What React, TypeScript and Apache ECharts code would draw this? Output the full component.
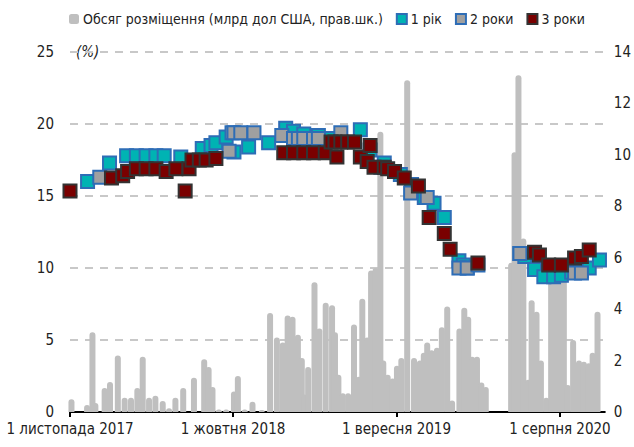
import React, { useEffect, useRef } from "react";
import * as echarts from "echarts";

const FONT = "'Liberation Sans Narrow', 'DejaVu Sans Condensed', 'Roboto', sans-serif";

const seriesNames = ["Обсяг розміщення (млрд дол США, прав.шк.)", "1 рік", "2 роки", "3 роки"];

const tickDates = ["2017-11-01", "2018-10-01", "2019-09-01", "2020-08-01"];
const tickLabels = ["1 листопада 2017", "1 жовтня 2018", "1 вересня 2019", "1 серпня 2020"];

const volumeDates = [
  "2017-11-04", "2017-12-06", "2017-12-17", "2017-12-23", "2018-01-11", "2018-01-22", "2018-02-07",
  "2018-02-21", "2018-03-06", "2018-03-19", "2018-03-30", "2018-04-12", "2018-04-25", "2018-05-10",
  "2018-05-23", "2018-06-05", "2018-06-21", "2018-07-13", "2018-08-03", "2018-08-12", "2018-08-20",
  "2018-09-02", "2018-09-17", "2018-10-03", "2018-10-11", "2018-10-25", "2018-11-10", "2018-11-29",
  "2018-12-16", "2018-12-30", "2019-01-11", "2019-01-21", "2019-01-31", "2019-02-11", "2019-02-19",
  "2019-02-24", "2019-03-04", "2019-03-17", "2019-03-27", "2019-04-09", "2019-04-22", "2019-04-28",
  "2019-05-05", "2019-05-14", "2019-05-25", "2019-06-06", "2019-06-16", "2019-06-23", "2019-07-03",
  "2019-07-11", "2019-07-20", "2019-07-30", "2019-08-05", "2019-08-14", "2019-08-24", "2019-09-02",
  "2019-09-11", "2019-09-23", "2019-10-07", "2019-10-19", "2019-10-27", "2019-11-03", "2019-11-12",
  "2019-11-23", "2019-12-03", "2019-12-14", "2019-12-24", "2020-01-08", "2020-01-18", "2020-01-26",
  "2020-02-03", "2020-02-13", "2020-02-22", "2020-03-02", "2020-04-23", "2020-04-30", "2020-05-08",
  "2020-05-18", "2020-05-28", "2020-06-04", "2020-06-14", "2020-06-23", "2020-07-04", "2020-07-14",
  "2020-07-23", "2020-07-31", "2020-08-09", "2020-08-17", "2020-08-28", "2020-09-09", "2020-09-19",
  "2020-09-29", "2020-10-07", "2020-10-17",
];
const volumeValues = [
  0.5, 0.27, 3.1, 0.35, 0.93, 1.17, 2.2,
  0.55, 0.55, 0.93, 2.15, 0.55, 0.63, 0.43,
  0.15, 0.55, 0.93, 1.33, 2.05, 1.75, 0.97,
  0.1, 0.1, 0.8, 1.4, 0.1, 0.4, 0.08,
  3.85, 2.9, 2.7, 3.75, 3.7, 3.0, 2.1,
  0.68, 1.75, 5.05, 3.25, 4.25, 4.15, 3.1,
  1.45, 0.73, 0.73, 3.4, 1.37, 4.4, 2.9,
  5.5, 5.6, 10.9, 2.0, 1.45, 1.3, 1.8,
  2.1, 12.9, 2.1, 2.0, 2.3, 2.7, 2.4,
  2.5, 3.3, 4.1, 0.45, 3.25, 4.05, 3.7,
  2.15, 2.15, 1.15, 0.97, 5.8, 10.1, 13.1,
  6.75, 1.25, 4.35, 3.9, 2.0, 0.55, 5.05,
  5.3, 5.3, 5.3, 1.05, 2.8, 2.0, 1.95,
  1.9, 2.3, 3.9,
];

const oneYearDates = [
  "2017-12-07", "2018-01-21", "2018-02-25", "2018-03-17", "2018-04-06", "2018-04-26", "2018-05-13",
  "2018-06-16", "2018-07-30", "2018-08-17", "2018-08-27", "2018-09-17", "2018-10-03", "2018-11-02",
  "2018-12-13", "2019-01-17", "2019-02-02", "2019-02-23", "2019-03-25", "2019-04-20", "2019-06-19",
  "2019-07-09", "2019-08-07", "2019-09-09", "2019-10-02", "2019-10-28", "2019-11-17", "2019-12-08",
  "2020-01-07", "2020-01-16", "2020-01-24", "2020-05-11", "2020-05-21", "2020-06-10", "2020-06-29",
  "2020-07-19", "2020-08-04", "2020-08-25", "2020-09-14", "2020-09-30", "2020-10-21",
];
const oneYearValues = [
  16.0, 17.3, 17.8, 17.8, 17.8, 17.8, 17.8,
  17.7, 18.3, 18.5, 18.7, 19.1, 18.05, 18.4,
  18.7, 19.7, 19.5, 19.3, 19.2, 19.0, 19.6,
  18.2, 17.3, 16.5, 15.8, 14.9, 14.5, 13.5,
  10.5, 10.2, 10.0, 11.0, 10.8, 9.9, 9.4,
  9.4, 9.5, 9.7, 9.8, 10.0, 10.55,
];

const twoYearDates = [
  "2018-01-01", "2018-09-23", "2018-09-29", "2018-10-03", "2018-10-17", "2018-11-13", "2019-01-09",
  "2019-02-02", "2019-02-12", "2019-02-23", "2019-03-15", "2019-03-25", "2019-05-10", "2019-07-31",
  "2019-09-30", "2019-11-03", "2020-01-07", "2020-01-24", "2020-02-15", "2020-05-11", "2020-08-31",
  "2020-09-14",
];
const twoYearValues = [
  16.3, 18.1, 19.4, 19.4, 19.4, 19.4, 19.2,
  19.0, 19.0, 19.0, 19.0, 19.0, 19.4, 17.0,
  15.2, 14.9, 10.0, 10.0, 10.2, 11.0, 9.65,
  9.65,
];

const threeYearDates = [
  "2017-11-01", "2018-01-25", "2018-02-17", "2018-02-27", "2018-03-17", "2018-04-06", "2018-04-26",
  "2018-05-17", "2018-06-06", "2018-06-25", "2018-07-03", "2018-07-09", "2018-07-24", "2018-08-07",
  "2018-08-27", "2019-01-13", "2019-02-02", "2019-02-23", "2019-03-15", "2019-04-08", "2019-04-20",
  "2019-04-28", "2019-05-10", "2019-05-24", "2019-06-07", "2019-05-02", "2019-06-19", "2019-07-09",
  "2019-07-03", "2019-07-17", "2019-08-07", "2019-08-14", "2019-08-28", "2019-09-17", "2019-10-16",
  "2019-11-07", "2019-12-08", "2019-12-20", "2020-02-15", "2020-06-10", "2020-06-20", "2020-07-09",
  "2020-08-04", "2020-08-31", "2020-09-14", "2020-09-30",
];
const threeYearValues = [
  15.35, 16.25, 16.4, 16.7, 16.9, 16.9, 16.9,
  16.7, 16.9, 15.35, 16.9, 17.5, 17.5, 17.5,
  17.6, 18.0, 18.0, 18.0, 18.0, 18.0, 18.75,
  18.75, 18.75, 18.75, 18.75, 17.7, 17.7, 18.5,
  17.4, 17.0, 17.0, 16.9, 16.7, 16.25, 15.7,
  13.5, 12.4, 11.3, 10.35, 11.1, 10.9, 10.2,
  10.2, 10.7, 10.8, 11.25,
];

const ts = (d: string) => new Date(d + "T00:00:00Z").getTime();
const pairs = (dates: string[], vals: number[]) => dates.map((d, i) => [ts(d), vals[i]]);

export default function App() {
  const ref = useRef<HTMLDivElement>(null);
  useEffect(() => {
    if (!ref.current) return;
    const chart = echarts.init(ref.current, null, { renderer: "svg" });
    const tickTimes = tickDates.map(ts);
    const textStyle = { fontFamily: FONT, fontSize: 15, color: "#222" };
    chart.setOption({
      animation: false,
      textStyle: { fontFamily: FONT },
      grid: { left: 70, right: 26, top: 52, bottom: 35, containLabel: false },
      legend: {
        top: 7,
        left: 64,
        itemWidth: 10,
        itemHeight: 10,
        itemGap: 13,
        textStyle: { ...textStyle, fontSize: 14, padding: [0, 0, 0, -1] },
        data: [
          { name: seriesNames[0], icon: "roundRect" },
          { name: seriesNames[1], icon: "rect" },
          { name: seriesNames[2], icon: "rect" },
          { name: seriesNames[3], icon: "rect" },
        ],
      },
      graphic: [
        {
          type: "text",
          left: 76,
          top: 44,
          style: { text: "(%)", fontFamily: FONT, fontSize: 15, fontStyle: "italic", fill: "#222" },
        },
      ],
      xAxis: {
        type: "value",
        min: ts("2017-11-01"),
        max: ts("2020-11-01"),
        axisLine: { show: true, lineStyle: { color: "#000", width: 2 } },
        axisTick: { show: true, customValues: tickTimes, length: 5, lineStyle: { color: "#000", width: 2 } },
        splitLine: { show: false },
        axisLabel: {
          ...textStyle,
          customValues: tickTimes,
          margin: 9,
          hideOverlap: false,
          showMinLabel: true,
          showMaxLabel: true,
          formatter: (v: number) => {
            const i = tickTimes.findIndex((t) => Math.abs(t - v) < 86400000);
            return i >= 0 ? tickLabels[i] : "";
          },
        },
      },
      yAxis: [
        {
          type: "value",
          min: 0,
          max: 25,
          interval: 5,
          axisLine: { show: false },
          axisTick: { show: false },
          axisLabel: { ...textStyle, margin: 16 },
          splitLine: { show: true, lineStyle: { color: "#C8C8C8", width: 2, type: [8, 7] } },
        },
        {
          type: "value",
          min: 0,
          max: 14,
          interval: 2,
          position: "right",
          axisLine: { show: false },
          axisTick: { show: false },
          axisLabel: { ...textStyle, margin: 9 },
          splitLine: { show: false },
        },
      ],
      series: [
        {
          name: seriesNames[0],
          type: "bar",
          yAxisIndex: 1,
          barWidth: 6,
          itemStyle: { color: "#BFBFBF", borderRadius: [3, 3, 0, 0] },
          data: pairs(volumeDates, volumeValues),
          z: 1,
        },
        {
          name: seriesNames[1],
          type: "scatter",
          symbol: "rect",
          symbolSize: 13,
          itemStyle: { color: "#00B3B3", borderColor: "#2E6DB6", borderWidth: 2, opacity: 1 },
          data: pairs(oneYearDates, oneYearValues),
          z: 3,
        },
        {
          name: seriesNames[2],
          type: "scatter",
          symbol: "rect",
          symbolSize: 13,
          itemStyle: { color: "#A0A0A0", borderColor: "#2E6DB6", borderWidth: 2, opacity: 1 },
          data: pairs(twoYearDates, twoYearValues),
          z: 4,
        },
        {
          name: seriesNames[3],
          type: "scatter",
          symbol: "rect",
          symbolSize: 13,
          itemStyle: { color: "#7A0000", borderColor: "#333333", borderWidth: 2, opacity: 1 },
          data: pairs(threeYearDates, threeYearValues),
          z: 5,
        },
      ],
    });
    return () => chart.dispose();
  }, []);
  return <div ref={ref} style={{ width: 634, height: 447, position: "absolute", left: 0, top: 0 }} />;
}
